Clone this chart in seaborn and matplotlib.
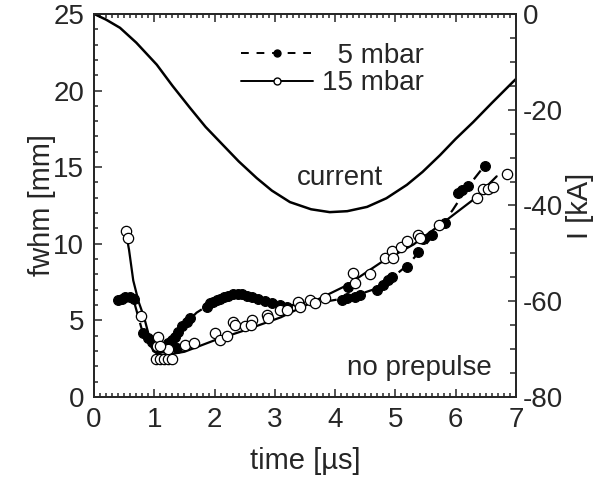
import matplotlib
matplotlib.use("Agg")
import matplotlib.pyplot as plt
from matplotlib.lines import Line2D
from matplotlib.ticker import MultipleLocator
import seaborn as sns
import pandas as pd

# 5 mbar, gefuellte Punkte
t_5 = [0.40, 0.46, 0.52, 0.60, 0.67, 0.81, 0.90, 0.96, 1.01, 1.08, 1.15, 1.22, 1.30, 1.37,
       1.34, 1.39, 1.46, 1.54, 1.59, 1.87, 1.93, 1.98, 2.04, 2.09, 2.16, 2.22, 2.30, 2.39,
       2.45, 2.54, 2.62, 2.72, 2.84, 2.95, 3.08, 3.20, 3.40, 4.11, 4.20, 4.21, 4.33, 4.41,
       4.69, 4.79, 4.88, 4.94, 5.19, 5.37, 5.45, 5.60, 5.82, 6.04, 6.10, 6.20, 6.48]
fwhm_5 = [6.3, 6.4, 6.5, 6.5, 6.4, 4.2, 3.85, 3.6, 3.4, 3.2, 3.26, 3.5, 3.75, 3.2,
          3.9, 4.25, 4.6, 4.9, 5.15, 5.9, 6.1, 6.2, 6.3, 6.4, 6.5, 6.6, 6.7, 6.75,
          6.7, 6.6, 6.5, 6.4, 6.25, 6.15, 6.0, 5.85, 6.1, 6.33, 6.45, 7.2, 6.5, 6.66,
          7.0, 7.3, 7.64, 7.8, 8.45, 9.45, 10.3, 10.6, 11.35, 13.3, 13.5, 13.8, 15.1]

# 15 mbar, offene Punkte
t_15 = [0.53, 0.56, 0.78, 1.04, 1.06, 1.02, 1.09, 1.16, 1.23, 1.30, 1.23, 1.09, 1.51, 1.65,
        2.00, 2.09, 2.20, 2.30, 2.34, 2.50, 2.62, 2.60, 2.87, 2.89, 3.08, 3.20, 3.38, 3.42,
        3.58, 3.67, 3.83, 4.30, 4.33, 4.58, 4.83, 4.94, 4.96, 5.10, 5.19, 5.37, 5.41, 5.72,
        6.35, 6.45, 6.53, 6.62, 6.85]
fwhm_15 = [10.8, 10.4, 5.3, 3.3, 3.9, 2.5, 2.45, 2.45, 2.5, 2.5, 3.1, 3.3, 3.4, 3.5,
           4.2, 3.7, 4.0, 4.9, 4.7, 4.6, 5.0, 4.7, 5.35, 5.15, 5.7, 5.7, 6.2, 5.9,
           6.35, 6.1, 6.46, 8.1, 7.45, 8.0, 9.1, 9.5, 9.1, 9.8, 10.2, 10.6, 10.4, 11.2,
           13.0, 13.6, 13.6, 13.7, 14.55]

# Kurven durch die Punkte
t_5_line = [0.40, 0.65, 0.80, 0.95, 1.10, 1.30, 1.50, 1.70, 1.90, 2.20, 2.45, 2.75, 3.05,
            3.40, 3.80, 4.10, 4.40, 4.70, 4.95, 5.20, 5.45, 5.70, 5.95, 6.20, 6.50]
fwhm_5_line = [6.3, 6.4, 4.3, 3.5, 3.2, 3.7, 4.7, 5.5, 6.0, 6.5, 6.7, 6.4, 6.0,
               6.0, 6.2, 6.4, 6.7, 7.1, 7.8, 8.6, 9.7, 10.9, 12.2, 13.7, 15.2]
t_15_line = [0.53, 0.58, 0.65, 0.74, 0.83, 0.91, 0.98, 1.08, 1.25, 1.50, 2.00, 2.50, 3.10,
             3.60, 4.20, 4.75, 5.30, 5.85, 6.30, 6.68]
fwhm_15_line = [10.7, 9.6, 7.6, 6.2, 5.2, 4.0, 3.0, 2.75, 2.78, 2.95, 3.7, 4.35, 5.2,
                6.15, 7.3, 8.75, 9.95, 11.55, 12.9, 14.4]

# Strom
t_cur = [0.0, 0.2, 0.43, 0.7, 1.04, 1.3, 1.59, 1.85, 2.14, 2.4, 2.70, 2.95, 3.25, 3.60,
         3.91, 4.20, 4.53, 4.85, 5.19, 5.45, 5.74, 6.0, 6.29, 6.6, 6.95, 7.0]
i_cur = [0.0, -1.2, -2.9, -6.0, -10.6, -15.0, -19.6, -23.6, -27.4, -30.8, -34.3, -36.9,
         -39.3, -40.8, -41.4, -41.2, -40.3, -38.5, -35.7, -33.0, -29.5, -26.1, -22.6,
         -18.6, -14.2, -13.6]

sns.set_style("ticks")
plt.rcParams['font.family'] = ['Liberation Sans', 'DejaVu Sans']
plt.rcParams['font.size'] = 20
plt.rcParams['axes.unicode_minus'] = False

fig = plt.figure(figsize=(6.07, 4.8), dpi=100)
ax = fig.add_axes([0.155, 0.173, 0.695, 0.798])

df5 = pd.DataFrame({'t': t_5, 'f': fwhm_5})
df15 = pd.DataFrame({'t': t_15, 'f': fwhm_15})

sns.lineplot(x=t_5_line, y=fwhm_5_line, ax=ax, color='black', lw=1.6, sort=False,
             linestyle=(0, (5, 4)))
sns.lineplot(x=t_15_line, y=fwhm_15_line, ax=ax, color='black', lw=1.6, sort=False)
sns.scatterplot(data=df5, x='t', y='f', ax=ax, color='black', s=50, edgecolor='black',
                linewidth=0.8, zorder=3)
sns.scatterplot(data=df15, x='t', y='f', ax=ax, color='white', s=55, edgecolor='black',
                linewidth=0.9, zorder=4)

ax.set_xlim(0, 7)
ax.set_ylim(0, 25)
ax.set_xlabel('time [µs]', labelpad=10, fontsize=21)
ax.set_ylabel('fwhm [mm]', labelpad=-2, fontsize=21)
ax.xaxis.set_major_locator(MultipleLocator(1))
ax.xaxis.set_minor_locator(MultipleLocator(0.1))
ax.yaxis.set_major_locator(MultipleLocator(5))
ax.yaxis.set_minor_locator(MultipleLocator(1))
ax.tick_params(which='both', direction='in', top=True, right=False, width=1.1,
               labelsize=20)
ax.tick_params(which='major', length=6, pad=7)
ax.tick_params(which='minor', length=3)

ax2 = ax.twinx()
sns.lineplot(x=t_cur, y=i_cur, ax=ax2, color='black', lw=1.8, sort=False)
ax2.set_ylim(-80, 0)
ax2.yaxis.set_major_locator(MultipleLocator(20))
ax2.yaxis.set_minor_locator(MultipleLocator(5))
ax2.tick_params(which='both', direction='in', width=1.1, labelsize=20)
ax2.tick_params(which='major', length=6, pad=5)
ax2.tick_params(which='minor', length=4)
ax2.set_ylabel('I [kA]', labelpad=2, fontsize=21)

for a in (ax, ax2):
    for sp in a.spines.values():
        sp.set_visible(True)
        sp.set_linewidth(1.3)

ax.text(4.08, 14.3, 'current', ha='center', va='center', fontsize=20)
ax.text(5.4, 1.9, 'no prepulse', ha='center', va='center', fontsize=20)

handles = [Line2D([], [], color='black', lw=1.4, linestyle=(0, (4, 4)), marker='o',
                  markersize=5, markerfacecolor='black'),
           Line2D([], [], color='black', lw=1.4, marker='o', markersize=5,
                  markerfacecolor='white')]
ax2.legend(handles, ['  5 mbar', '15 mbar'], loc='upper center', bbox_to_anchor=(0.565, 0.975),
           frameon=False, handlelength=2.6, handletextpad=0.3, labelspacing=0.05,
           borderpad=0.2, fontsize=20)

fig.savefig('out.png', dpi=100)
